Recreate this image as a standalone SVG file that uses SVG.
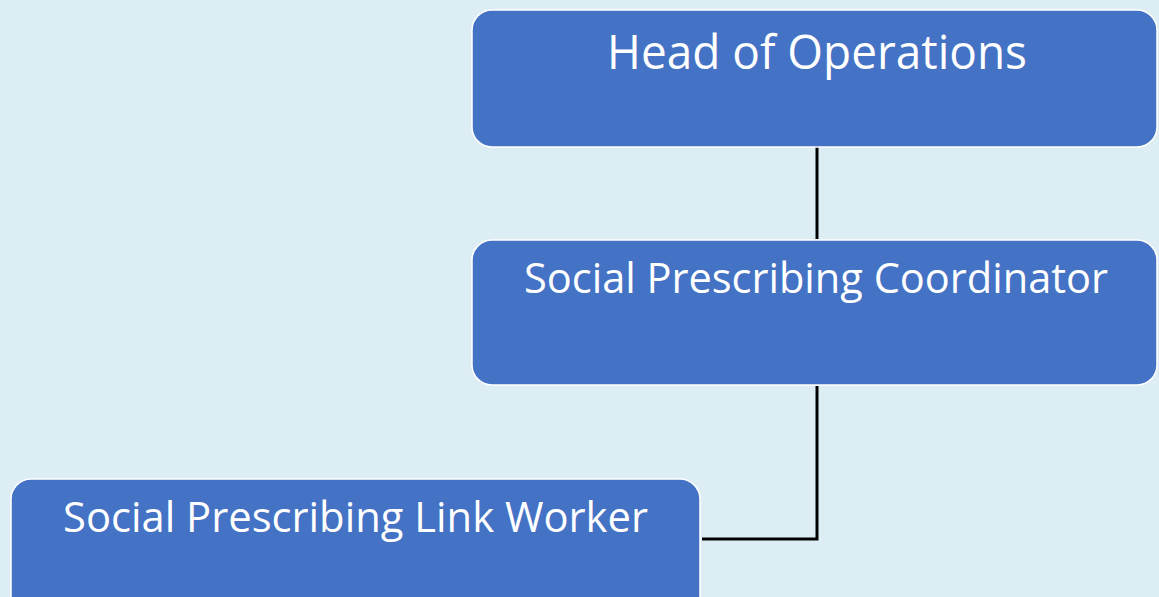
<svg xmlns="http://www.w3.org/2000/svg" width="1159" height="597" viewBox="0 0 1159 597">
<style>
.box{fill:#4472C4;stroke:#FFFFFF;stroke-width:1.5}
.lbl{fill:#FFFFFF;font-family:"Open Sans","Noto Sans",sans-serif;text-anchor:middle}
.conn{fill:none;stroke:#000000;stroke-width:3}
</style>
<rect x="0" y="0" width="1159" height="597" fill="#DCEEF3"/>
<g id="connectors">
<line class="conn" x1="817" y1="147" x2="817" y2="239"/>
<polyline class="conn" points="817,386 817,539 702,539"/>
</g>
<g id="node-head">
<rect class="box" x="472" y="10" width="685" height="137" rx="20"/>
<text class="lbl" x="817" y="69" font-size="48" textLength="420" lengthAdjust="spacingAndGlyphs">Head of Operations</text>
</g>
<g id="node-coordinator">
<rect class="box" x="472" y="240" width="685" height="145" rx="20"/>
<text class="lbl" x="816" y="293" font-size="42" textLength="584" lengthAdjust="spacingAndGlyphs">Social Prescribing Coordinator</text>
</g>
<g id="node-linkworker">
<rect class="box" x="11" y="479" width="689" height="140" rx="20"/>
<text class="lbl" x="355.5" y="532" font-size="42" textLength="585" lengthAdjust="spacingAndGlyphs">Social Prescribing Link Worker</text>
</g>
</svg>
